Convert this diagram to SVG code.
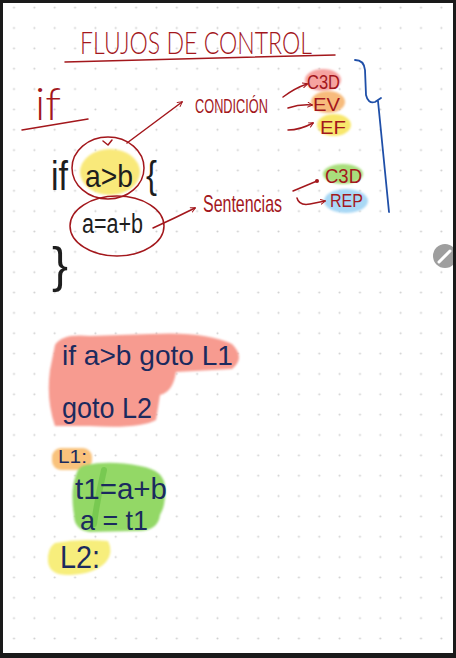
<svg xmlns="http://www.w3.org/2000/svg" width="456" height="658" viewBox="0 0 456 658">
<defs>
<pattern id="dots" x="3.825" y="17.825" width="20.35" height="20.35" patternUnits="userSpaceOnUse">
<circle cx="10.175" cy="10.175" r="1" fill="#cfcfcf"/>
</pattern>
<marker id="ah" viewBox="0 0 10 10" refX="8" refY="5" markerWidth="6" markerHeight="6" orient="auto" markerUnits="userSpaceOnUse">
<path d="M1,1 L9,5 L1,9" fill="none" stroke="#a3171c" stroke-width="1.6" stroke-linecap="round" stroke-linejoin="round"/>
</marker>
<marker id="dot" viewBox="0 0 10 10" refX="5" refY="5" markerWidth="5" markerHeight="5" markerUnits="userSpaceOnUse">
<circle cx="5" cy="5" r="4" fill="#a3171c"/>
</marker>
<filter id="soft" x="-20%" y="-20%" width="140%" height="140%"><feGaussianBlur stdDeviation="1.2"/></filter>
</defs>
<style>
.red{fill:#a3171c;font-family:"Liberation Sans",Arial,sans-serif}
.thin{font-family:Lato,"Liberation Sans",Arial,sans-serif;font-weight:300}
.blk{fill:#1e1e1e;font-family:"Liberation Sans",Arial,sans-serif}
.nav{fill:#1b2a5e;font-family:"Liberation Sans",Arial,sans-serif}
.ink{fill:none;stroke:#a3171c;stroke-width:1.5;stroke-linecap:round;stroke-linejoin:round}
.hl{filter:url(#soft)}
</style>
<rect x="0" y="0" width="456" height="658" fill="#1a1a1a"/>
<rect x="3" y="3" width="450" height="650" fill="#ffffff"/>
<rect x="3" y="3" width="450" height="650" fill="url(#dots)"/>

<g id="title">
<text class="red thin" x="80" y="54" font-size="31" textLength="232" lengthAdjust="spacingAndGlyphs">FLUJOS DE CONTROL</text>
<path class="ink" d="M65,62 L335,55"/>
</g>

<g id="if-heading">
<text class="red thin" x="35" y="120" font-size="46" textLength="26" lengthAdjust="spacingAndGlyphs">if</text>
<path class="ink" d="M22,130 L88,119"/>
</g>

<g id="condicion">
<text class="red" x="195" y="113" font-size="20" textLength="73" lengthAdjust="spacingAndGlyphs">CONDICIÓN</text>
</g>

<g id="c3d-top">
<ellipse class="hl" cx="323" cy="80" rx="18" ry="11" fill="#f6a3a0"/>
<text class="red" x="307" y="89" font-size="20" textLength="33" lengthAdjust="spacingAndGlyphs">C3D</text>
</g>
<g id="ev">
<ellipse class="hl" cx="328" cy="102" rx="17" ry="11" fill="#f7bb7c"/>
<text class="red" x="313" y="111" font-size="19" textLength="27" lengthAdjust="spacingAndGlyphs">EV</text>
</g>
<g id="ef">
<ellipse class="hl" cx="334" cy="125" rx="17" ry="11" fill="#f8e76c"/>
<text class="red" x="320" y="134" font-size="19" textLength="26" lengthAdjust="spacingAndGlyphs">EF</text>
</g>

<g id="brace-blue">
<path d="M355,60 Q364,60 365,70 L366,95 Q368,104 375,102 L381,98 M378,101 L389,212" fill="none" stroke="#1f4fa8" stroke-width="1.8" stroke-linecap="round" stroke-linejoin="round"/>
</g>

<g id="if-code">
<text class="blk" x="51" y="190" font-size="40" textLength="17" lengthAdjust="spacingAndGlyphs">if</text>
<text class="blk" x="146" y="188" font-size="38" textLength="11" lengthAdjust="spacingAndGlyphs">{</text>
<text class="blk" x="52" y="282" font-size="50" textLength="16" lengthAdjust="spacingAndGlyphs">}</text>
</g>

<g id="cond-node">
<ellipse class="hl" cx="110" cy="172" rx="30" ry="23" fill="#f9e97a"/>
<text class="blk" x="85" y="187" font-size="32" textLength="48" lengthAdjust="spacingAndGlyphs">a&gt;b</text>
<ellipse class="ink" cx="108" cy="168" rx="36" ry="31"/>
<path class="ink" d="M103,141 L108,145 L112,140"/>
</g>

<g id="stmt-node">
<text class="blk" x="82" y="233" font-size="27" textLength="61" lengthAdjust="spacingAndGlyphs">a=a+b</text>
<ellipse class="ink" cx="117" cy="226" rx="47" ry="30"/>
</g>

<g id="sentencias">
<text class="red" x="203" y="212" font-size="24" textLength="79" lengthAdjust="spacingAndGlyphs">Sentencias</text>
</g>

<g id="c3d-green">
<ellipse class="hl" cx="343" cy="174" rx="20" ry="10" fill="#a8de7c"/>
<text class="red" x="325" y="183" font-size="21" textLength="37" lengthAdjust="spacingAndGlyphs">C3D</text>
</g>
<g id="rep">
<ellipse class="hl" cx="346" cy="201" rx="22" ry="12" fill="#a9d8f5"/>
<text class="red" x="330" y="207" font-size="19" textLength="33" lengthAdjust="spacingAndGlyphs">REP</text>
</g>

<g id="connectors">
<path class="ink" d="M127,143 L182,102" stroke-width="1" marker-end="url(#ah)"/>
<path class="ink" d="M283,97 Q295,88 307,84" marker-end="url(#ah)"/>
<path class="ink" d="M288,108 Q300,104 312,105" marker-end="url(#ah)"/>
<path class="ink" d="M288,130 Q300,130 313,123" marker-end="url(#ah)"/>
<path class="ink" d="M153,228 Q175,218 195,208" marker-end="url(#ah)"/>
<path class="ink" d="M293,191 L317,181" marker-end="url(#dot)"/>
<path class="ink" d="M297,198 Q299,206 310,204 L325,201" marker-end="url(#ah)"/>
</g>

<g id="tac-goto">
<path class="hl" d="M55,345 Q62,333 90,336 L150,334 Q205,331 232,344 Q246,358 232,369 L176,372 Q173,392 160,395 L156,420 Q140,429 90,426 L55,426 Q46,400 50,370 Z" fill="#f79b90"/>
<text class="nav" x="62" y="365" font-size="28" textLength="171" lengthAdjust="spacingAndGlyphs">if a&gt;b goto L1</text>
<text class="nav" x="62" y="418" font-size="29" textLength="90" lengthAdjust="spacingAndGlyphs">goto L2</text>
</g>

<g id="label-l1">
<rect class="hl" x="52" y="448" width="40" height="22" rx="9" fill="#f9c27c"/>
<text class="nav" x="58" y="463" font-size="18" textLength="29" lengthAdjust="spacingAndGlyphs">L1:</text>
</g>

<g id="block-l1">
<path class="hl" d="M86,465 Q110,460 140,466 Q165,470 165,488 Q166,505 160,515 Q158,532 135,531 L90,532 Q74,530 74,515 Q70,490 76,475 Q78,466 86,465 Z" fill="#93d866"/>
<path d="M104,470 Q98,495 94,524" fill="none" stroke="#72c64c" stroke-width="6" stroke-linecap="round" opacity="0.8"/>
<text class="nav" x="75" y="499" font-size="30" textLength="92" lengthAdjust="spacingAndGlyphs">t1=a+b</text>
<text class="nav" x="80" y="530" font-size="28" textLength="68" lengthAdjust="spacingAndGlyphs">a = t1</text>
</g>

<g id="label-l2">
<path class="hl" d="M55,543 Q80,538 108,541 Q114,552 106,562 Q95,574 70,575 Q50,576 48,562 Q47,548 55,543 Z" fill="#f7ee7c"/>
<text class="nav" x="60" y="568" font-size="32" textLength="40" lengthAdjust="spacingAndGlyphs">L2:</text>
</g>

<g id="pencil-icon">
<circle cx="445" cy="256" r="12" fill="#9e9e9e"/>
<path d="M439,262 L450,251" stroke="#ffffff" stroke-width="3" stroke-linecap="round"/>
</g>
<rect x="453" y="0" width="3" height="658" fill="#1a1a1a"/>
</svg>
